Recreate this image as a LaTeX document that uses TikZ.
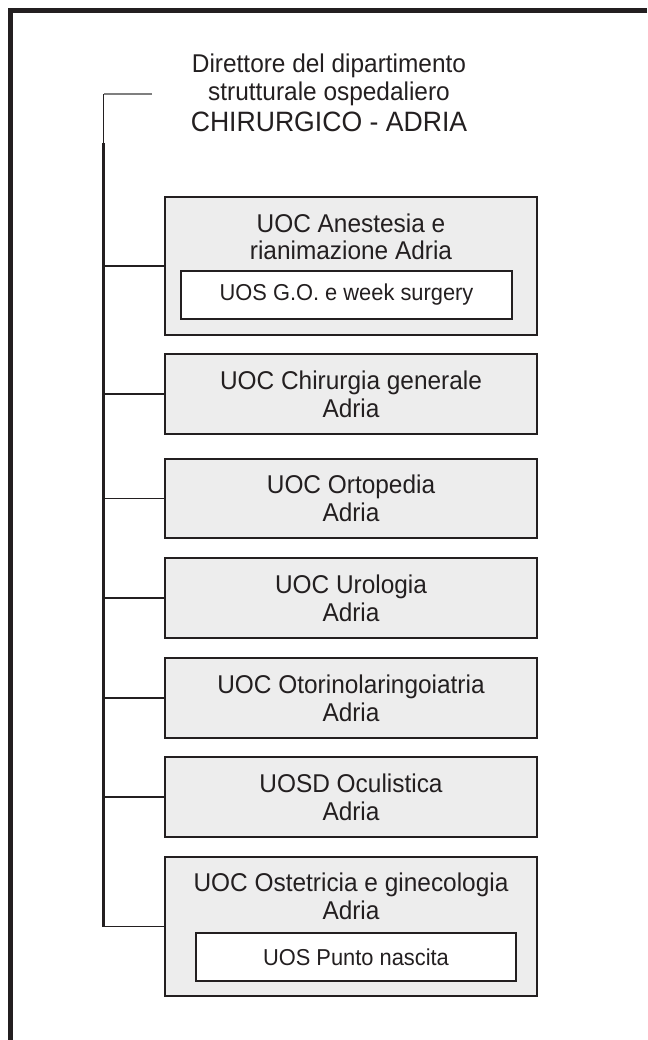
\documentclass[tikz,border=0pt]{standalone}
\usepackage{fontspec}
\setmainfont[FakeStretch=0.95]{Liberation Sans}
\definecolor{ink}{HTML}{231F20}
\definecolor{boxfill}{HTML}{EDEDED}
\definecolor{thinline}{HTML}{7F7F7F}
\tikzset{
  unitbox/.style={draw=ink, fill=boxfill, line width=1.5pt, minimum width=372pt, inner sep=0pt, text=ink, align=center,
    font=\fontsize{25.7}{28}\selectfont},
  subbox/.style={draw=ink, fill=white, line width=1.5pt, minimum height=48pt, inner sep=0pt, text=ink,
    font=\fontsize{23}{25}\selectfont},
  boxtext/.style={text=ink, align=center, inner sep=0pt, font=\fontsize{25.7}{27}\selectfont},
  branch/.style={draw=ink, line width=1.3pt},
  trunk/.style={draw=ink, line width=2.2pt},
  frame/.style={draw=ink, line width=5pt},
}
\begin{document}
\begin{tikzpicture}[x=1pt,y=-1pt]
\useasboundingbox (0,0) rectangle (647,1040);
% frame
\draw[frame] (647,10.5) -- (10.5,10.5) -- (10.5,1040);
% title
\node[text=ink, align=center, inner sep=0pt, font=\fontsize{25.7}{28}\selectfont] (title) at (329,93.3)
  {Direttore del dipartimento\\strutturale ospedaliero\\[3pt]{\fontsize{28}{31}\selectfont CHIRURGICO - ADRIA}};
% boxes
\node[unitbox, minimum height=138pt] (b1) at (351,266) {};
\node[boxtext] (b1t) at (351,236.8) {UOC Anestesia e\\rianimazione Adria};
\node[subbox, minimum width=331pt] (b1s) at (346.5,295) {UOS G.O. e week surgery};
\node[unitbox, minimum height=80pt] (b2) at (351,394) {UOC Chirurgia generale\\Adria};
\node[unitbox, minimum height=79pt] (b3) at (351,498.5) {UOC Ortopedia\\Adria};
\node[unitbox, minimum height=80pt] (b4) at (351,598) {UOC Urologia\\Adria};
\node[unitbox, minimum height=80pt] (b5) at (351,698) {UOC Otorinolaringoiatria\\Adria};
\node[unitbox, minimum height=80pt] (b6) at (351,797) {UOSD Oculistica\\Adria};
\node[unitbox, minimum height=139pt] (b7) at (351,926.5) {};
\node[boxtext, font=\fontsize{25.7}{28}\selectfont] (b7t) at (351,896.3) {UOC Ostetricia e ginecologia\\Adria};
\node[subbox, minimum width=320pt] (b7s) at (356,957) {UOS Punto nascita};
% connectors
\coordinate (tl) at (152,94);
\coordinate (tt) at (103.5,94);
\coordinate (tk) at (103.5,143);
\draw[thinline, line width=1.2pt] (tl) -- (tt);
\draw[ink, line width=0.9pt] (tt) -- (tk);
\draw[trunk] (tk) -- (b7.west -| tk);
\draw[branch] (b7.west -| tk) -- (b7.west);
\foreach \b in {b1,b2,b3,b4,b5,b6} {
  \draw[branch] (\b.west -| tk) -- (\b.west);
}
\end{tikzpicture}
\end{document}
